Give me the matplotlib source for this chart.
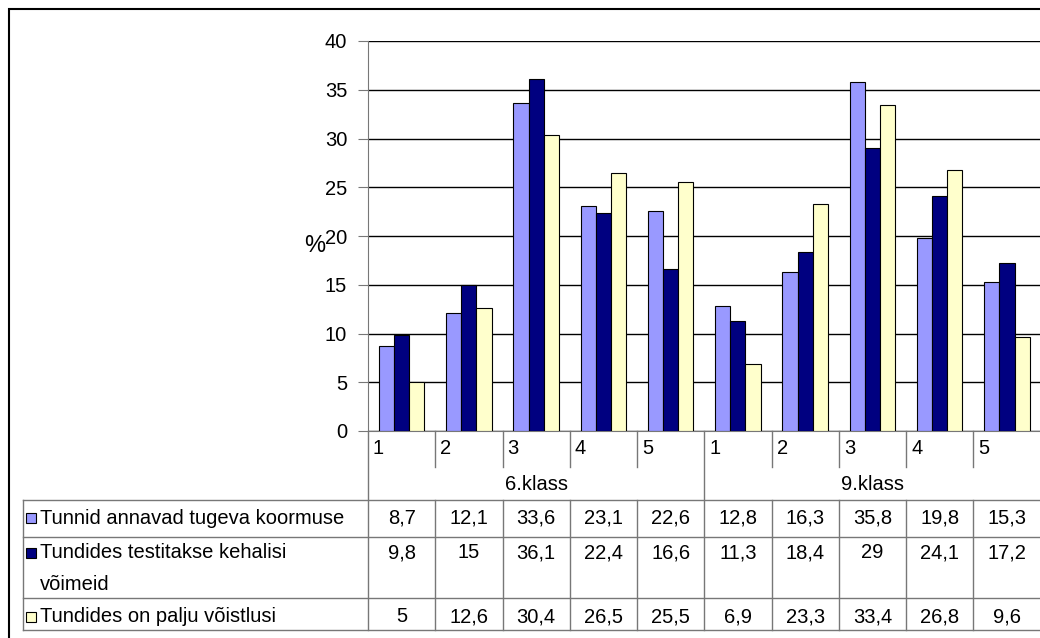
import numpy as np
import matplotlib.pyplot as plt
from matplotlib.lines import Line2D
from matplotlib.patches import Rectangle

plt.rcParams['font.family'] = ['Liberation Sans', 'DejaVu Sans']

# data
categories = ['1', '2', '3', '4', '5', '1', '2', '3', '4', '5']
groups = ['6.klass', '9.klass']
series = ['Tunnid annavad tugeva koormuse',
          'Tundides testitakse kehalisi\nvõimeid',
          'Tundides on palju võistlusi']
koormus = [8.7, 12.1, 33.6, 23.1, 22.6, 12.8, 16.3, 35.8, 19.8, 15.3]
testid = [9.8, 15, 36.1, 22.4, 16.6, 11.3, 18.4, 29, 24.1, 17.2]
voistlus = [5, 12.6, 30.4, 26.5, 25.5, 6.9, 23.3, 33.4, 26.8, 9.6]
values = [koormus, testid, voistlus]
colors = ['#9999FF', '#000080', '#FFFFCC']

W, H = 1040, 638
FS = 14.5
fig = plt.figure(figsize=(W / 100, H / 100), dpi=100)

x0, y0, y40 = 368, 431, 41
cw = 67.26
ax = fig.add_axes([x0 / W, 1 - y0 / H, cw * 10 / W, (y0 - y40) / H])

x = np.arange(len(categories)) + 0.5
bw = 0.225
for i in range(3):
    ax.bar(x + (i - 1) * bw, values[i], width=bw, color=colors[i],
           edgecolor='black', linewidth=0.8, zorder=3)

ax.set_xlim(0, 10)
ax.set_ylim(0, 40)
ax.set_yticks(range(0, 41, 5))
ax.set_xticks([])
ax.yaxis.grid(True, color='black', linewidth=1)
ax.set_axisbelow(True)
for s in ['top', 'right']:
    ax.spines[s].set_visible(False)
ax.spines['left'].set_color('#777777')
ax.spines['bottom'].set_color('#777777')
ax.tick_params(axis='y', length=7, color='#777777', labelsize=FS, pad=8)

# y axis title "%" sits just left of the 20 label
fig.text(315 / W, 1 - 246 / H, '%', fontsize=17, ha='center', va='center')


def line(xa, ya, xb, yb, c='#777777', lw=1):
    fig.add_artist(Line2D([xa / W, xb / W], [1 - ya / H, 1 - yb / H],
                          transform=fig.transFigure, color=c, linewidth=lw))


def text(xp, yp, s, **kw):
    fig.text(xp / W, 1 - yp / H, s, fontsize=FS, **kw)


# outer frame
fig.add_artist(Rectangle((9 / W, -0.1), 1.2, 1 - 9 / H + 0.1, fill=False,
                         edgecolor='black', linewidth=1.5,
                         transform=fig.transFigure))

# table layout
t_top, r1, r2, r3 = 500, 537, 598, 630
bounds = [x0 + cw * k for k in range(11)]
for k, b in enumerate(bounds[:10]):
    if k in (0, 5):
        line(b, y0, b, r3)
    else:
        line(b, y0, b, 467)
        line(b, t_top, b, r3)
for yy in [t_top, r1, r2, r3]:
    line(23, yy, W, yy)
line(23, t_top, 23, r3)

# category and group labels
for k, c in enumerate(categories):
    text(bounds[k] + 5, 448, c, ha='left', va='center')
for g, grp in enumerate(groups):
    text((bounds[g * 5] + bounds[g * 5 + 5]) / 2, 484, grp, ha='center', va='center')

# rows
row_y = [518, 553, 617]
for i, name in enumerate(series):
    yy = row_y[i]
    fig.add_artist(Rectangle((26 / W, 1 - (yy + 5) / H), 10 / W, 10 / H,
                             facecolor=colors[i], edgecolor='black', linewidth=0.8,
                             transform=fig.transFigure))
    for j, ln in enumerate(name.split('\n')):
        text(40, yy + j * 31, ln, ha='left', va='center')
    for k, v in enumerate(values[i]):
        text((bounds[k] + bounds[k + 1]) / 2, yy, f'{v:g}'.replace('.', ','),
             ha='center', va='center')

fig.savefig('out.png', dpi=100)
